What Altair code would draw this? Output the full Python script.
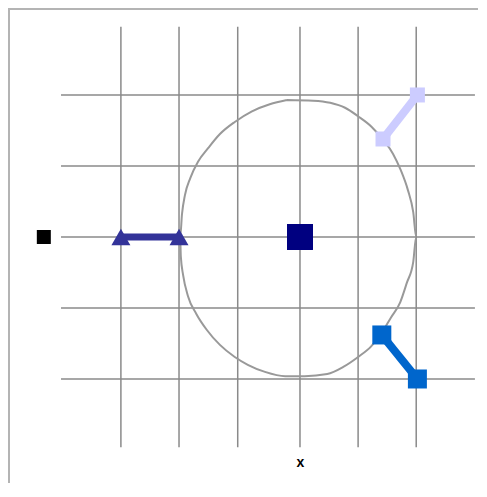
import altair as alt
import pandas as pd

# grid lines (data units)
vgrid_x = [-3.02, -2.04, -1.05, 0.0, 0.98, 1.96]
vgrid_ymin, vgrid_ymax = -2.96, 2.96
hgrid_y = [2.0, 1.0, 0.0, -1.0, -2.0]
hgrid_xmin, hgrid_xmax = -4.03, 2.95

# circle outline
circle_x = [-0.22, 0.22, 0.51, 0.76, 0.98, 1.21, 1.40, 1.57, 1.70, 1.82, 1.91, 1.96,
            1.91, 1.80, 1.69, 1.53, 1.38, 1.20, 0.98, 0.73, 0.46, 0.08, -0.25, -0.59,
            -0.88, -1.10, -1.35, -1.57, -1.75, -1.89, -1.97, -2.01, -2.02, -1.99, -1.94,
            -1.85, -1.72, -1.55, -1.35, -1.10, -0.81, -0.51, -0.22]
circle_y = [1.93, 1.92, 1.89, 1.82, 1.70, 1.55, 1.37, 1.17, 0.94, 0.66, 0.35, 0.0,
            -0.35, -0.65, -0.92, -1.14, -1.35, -1.54, -1.69, -1.83, -1.93, -1.96, -1.96, -1.90,
            -1.80, -1.69, -1.52, -1.31, -1.08, -0.83, -0.54, -0.27, 0.0, 0.32, 0.59,
            0.83, 1.06, 1.25, 1.45, 1.62, 1.77, 1.87, 1.93]

# series
black_x, black_y = [-4.32], [0.0]
center_x, center_y = [0.0], [0.0]
tri_x, tri_y = [-3.02, -2.04], [0.0, 0.0]
lav_x, lav_y = [1.40, 1.98], [1.38, 2.0]
blue_x, blue_y = [1.38, 1.98], [-1.38, -2.0]

W, H = 470, 475
XDOM = [-4.924, 3.002]
YDOM = [-3.465, 3.225]

xaxis = alt.Axis(title="x", labels=False, ticks=False, domain=False, grid=False,
                 titleFontSize=14, titleFont="Liberation Sans", titleFontWeight="bold",
                 titleColor="black", titleX=292, titleY=-21, titleAlign="center",
                 titleBaseline="middle")
xs = alt.Scale(domain=XDOM, nice=False, zero=False)
ys = alt.Scale(domain=YDOM, nice=False, zero=False)


def X(f="x"):
    return alt.X(f"{f}:Q", scale=xs, axis=xaxis)


def Y(f="y"):
    return alt.Y(f"{f}:Q", scale=ys, axis=None)


vg = pd.DataFrame({"x": vgrid_x, "y": [vgrid_ymin] * len(vgrid_x), "y2": [vgrid_ymax] * len(vgrid_x)})
hg = pd.DataFrame({"y": hgrid_y, "x": [hgrid_xmin] * len(hgrid_y), "x2": [hgrid_xmax] * len(hgrid_y)})
circ = pd.DataFrame({"x": circle_x, "y": circle_y, "o": list(range(len(circle_x)))})

vrules = alt.Chart(vg).mark_rule(color="#8a8a8a", strokeWidth=1.5).encode(x=X(), y=Y(), y2="y2:Q")
hrules = alt.Chart(hg).mark_rule(color="#8a8a8a", strokeWidth=1.5).encode(y=Y(), x=X(), x2="x2:Q")
circle = alt.Chart(circ).mark_line(color="#999999", strokeWidth=2, interpolate="monotone").encode(
    x=X(), y=Y(), order="o:Q")


def series(xv, yv, color, shape, size, lw=None):
    df = pd.DataFrame({"x": xv, "y": yv})
    pts = alt.Chart(df).mark_point(filled=True, opacity=1, color=color, shape=shape, size=size).encode(x=X(), y=Y())
    if lw:
        ln = alt.Chart(df).mark_line(color=color, strokeWidth=lw).encode(x=X(), y=Y())
        return [ln, pts]
    return [pts]


frame_left = alt.Chart().mark_rule(color="#b4b4b4", strokeWidth=2).encode(
    x=alt.value(1), y=alt.value(0), y2=alt.value(H))
frame_top = alt.Chart().mark_rule(color="#b4b4b4", strokeWidth=2).encode(
    y=alt.value(1), x=alt.value(0), x2=alt.value(W))

layers = [vrules, hrules, circle]
layers += series(black_x, black_y, "#000000", "square", 196)
layers += series(tri_x, tri_y, "#333399", "triangle-up", 360, 7)
layers += series(lav_x, lav_y, "#ccccff", "square", 225, 8)
layers += series(blue_x, blue_y, "#0066cc", "square", 361, 8)
layers += series(center_x, center_y, "#000080", "square", 676)
layers += [frame_left, frame_top]

chart = alt.layer(*layers).properties(
    width=W, height=H, autosize=alt.AutoSizeParams(type="none"), padding=0, background="white"
).configure_view(stroke=None)

chart.save("out.html", embed_options={"renderer": "svg", "actions": False})
